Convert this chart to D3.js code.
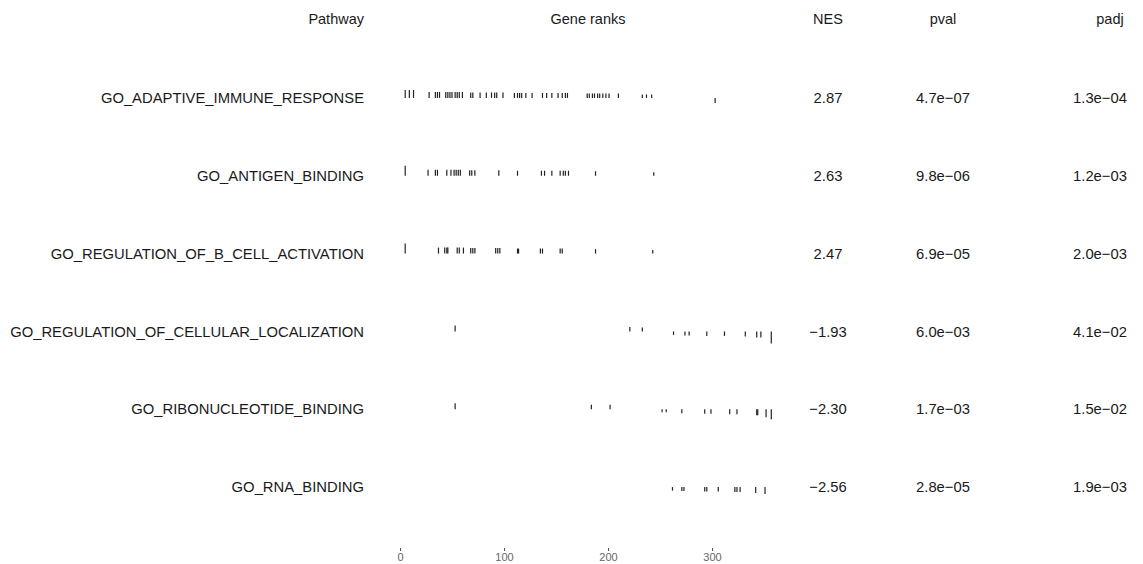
<!DOCTYPE html>
<html>
<head>
<meta charset="utf-8">
<script src="https://cdn.jsdelivr.net/npm/d3@7"></script>
<style>
  body { margin: 0; background: #fff; }
  text { font-family: "Liberation Sans", Arial, sans-serif; }
</style>
</head>
<body>
<svg id="chart" width="1143" height="564"></svg>
<script>
// table contents
const pathways = [
  "GO_ADAPTIVE_IMMUNE_RESPONSE",
  "GO_ANTIGEN_BINDING",
  "GO_REGULATION_OF_B_CELL_ACTIVATION",
  "GO_REGULATION_OF_CELLULAR_LOCALIZATION",
  "GO_RIBONUCLEOTIDE_BINDING",
  "GO_RNA_BINDING"
]
const nes = [2.87, 2.63, 2.47, -1.93, -2.30, -2.56]
const pval = [4.7e-07, 9.8e-06, 6.9e-05, 6.0e-03, 1.7e-03, 2.8e-05]
const padj = [1.3e-04, 1.2e-03, 2.0e-03, 4.1e-02, 1.5e-02, 1.9e-03]

// gene positions in the ranked list: [rank, scaled stat]
const ranksAdaptive = [[5,.8],[9,.8],[13,.8],[28,.6],[34,.6],[36,.6],[38,.6],[44,.6],[46,.6],[48,.6],[50,.6],[53,.6],[55,.6],[57,.6],[60,.6],[68,.55],[70,.55],[77,.55],[83,.55],[88,.55],[91,.55],[93,.55],[99,.55],[110,.5],[113,.5],[115,.5],[117,.5],[121,.5],[127,.5],[137,.5],[141,.5],[146,.5],[152,.5],[156,.5],[159,.5],[161,.5],[180,.45],[182,.45],[185,.45],[187,.45],[190,.45],[192,.45],[195,.45],[198,.45],[201,.45],[210,.45],[233,.35],[237,.35],[242,.35],[303,-.5]]
const ranksAntigen = [[5,1.0],[27,.6],[34,.6],[36,.6],[45,.6],[49,.6],[52,.6],[54,.6],[56,.6],[58,.6],[67,.55],[69,.55],[72,.55],[95,.55],[113,.5],[136,.5],[139,.5],[146,.5],[154,.5],[157,.5],[159,.5],[162,.5],[188,.45],[244,.35]]
const ranksBcell = [[5,1.0],[37,.6],[43,.6],[45,.6],[46,.6],[55,.6],[57,.6],[61,.6],[68,.55],[70,.55],[72,.55],[92,.55],[94,.55],[96,.55],[113,.5],[114,.5],[135,.5],[137,.5],[154,.5],[156,.5],[188,.45],[243,.35]]
const ranksLocalization = [[53,.6],[221,.45],[233,.4],[263,-.35],[274,-.4],[278,-.4],[295,-.45],[312,-.45],[332,-.5],[343,-.6],[347,-.6],[357,-1.2]]
const ranksRibonucleotide = [[53,.6],[184,.45],[202,.45],[252,-.3],[256,-.3],[271,-.4],[293,-.45],[299,-.45],[317,-.5],[324,-.5],[343,-.6],[344,-.6],[352,-.8],[357,-1.0]]
const ranksRna = [[262,-.35],[271,-.4],[273,-.4],[293,-.45],[295,-.45],[306,-.45],[322,-.5],[324,-.5],[327,-.5],[342,-.6],[351,-.7]]
const geneRanks = [ranksAdaptive, ranksAntigen, ranksBcell, ranksLocalization, ranksRibonucleotide, ranksRna]

const nGenes = 361
const rankTicks = [0, 100, 200, 300]

const svg = d3.select("#chart")

const y = d3.scaleBand()
  .domain(pathways)
  .range([59, 526])

const x = d3.scaleLinear()
  .domain([0, nGenes])
  .range([400, 400 + nGenes * 1.04])

const tickH = d3.scaleLinear()
  .domain([0, 1])
  .range([0, 10])

const fmtE = v => {
  const [m, e] = v.toExponential(1).split("e")
  const sign = e[0] === "-" ? "\u2212" : "+"
  const digits = e.replace(/[+-]/, "").padStart(2, "0")
  return `${m}e${sign}${digits}`
}
const fmtNes = v => (v < 0 ? "\u2212" : "") + Math.abs(v).toFixed(2)

const cols = { pathway: 364, ranks: 588, nes: 828, pval: 943, padj: 1100 }
const textColor = "#1a1a1a"
const fs = 14.8

// header
const header = svg.append("g").attr("font-size", 14.5).attr("fill", textColor)
header.append("text").attr("x", cols.pathway).attr("y", 24).attr("text-anchor", "end").text("Pathway")
header.append("text").attr("x", cols.ranks).attr("y", 24).attr("text-anchor", "middle").text("Gene ranks")
header.append("text").attr("x", cols.nes).attr("y", 24).attr("text-anchor", "middle").text("NES")
header.append("text").attr("x", cols.pval).attr("y", 24).attr("text-anchor", "middle").text("pval")
header.append("text").attr("x", cols.padj + 10).attr("y", 24).attr("text-anchor", "middle").text("padj")

const rows = svg.selectAll("g.row")
  .data(pathways)
  .enter().append("g")
  .attr("class", "row")
  .attr("transform", d => `translate(0,${y(d) + y.bandwidth() / 2})`)

rows.append("text")
  .attr("x", cols.pathway)
  .attr("dy", "0.35em")
  .attr("text-anchor", "end")
  .attr("font-size", fs)
  .attr("fill", textColor)
  .text(d => d)

rows.selectAll("line.gene")
  .data((d, i) => geneRanks[i])
  .enter().append("line")
  .attr("class", "gene")
  .attr("x1", d => x(d[0]))
  .attr("x2", d => x(d[0]))
  .attr("y1", 0)
  .attr("y2", d => -tickH(d[1]))
  .attr("stroke", "#222")
  .attr("stroke-width", 1.2)

rows.append("text")
  .attr("x", cols.nes)
  .attr("dy", "0.35em")
  .attr("text-anchor", "middle")
  .attr("font-size", fs)
  .attr("fill", textColor)
  .text((d, i) => fmtNes(nes[i]))

rows.append("text")
  .attr("x", cols.pval)
  .attr("dy", "0.35em")
  .attr("text-anchor", "middle")
  .attr("font-size", fs)
  .attr("fill", textColor)
  .text((d, i) => fmtE(pval[i]))

rows.append("text")
  .attr("x", cols.padj)
  .attr("dy", "0.35em")
  .attr("text-anchor", "middle")
  .attr("font-size", fs)
  .attr("fill", textColor)
  .text((d, i) => fmtE(padj[i]))

// rank axis
const axis = svg.append("g")
  .attr("transform", "translate(0,548)")
  .call(d3.axisBottom(x).tickValues(rankTicks).tickSize(3).tickPadding(2))
axis.select(".domain").remove()
axis.selectAll(".tick line").attr("stroke", "#555")
axis.selectAll(".tick text")
  .attr("font-size", 11)
  .attr("fill", "#666")
  .style("font-family", "'Liberation Sans', Arial, sans-serif")
</script>
</body>
</html>
